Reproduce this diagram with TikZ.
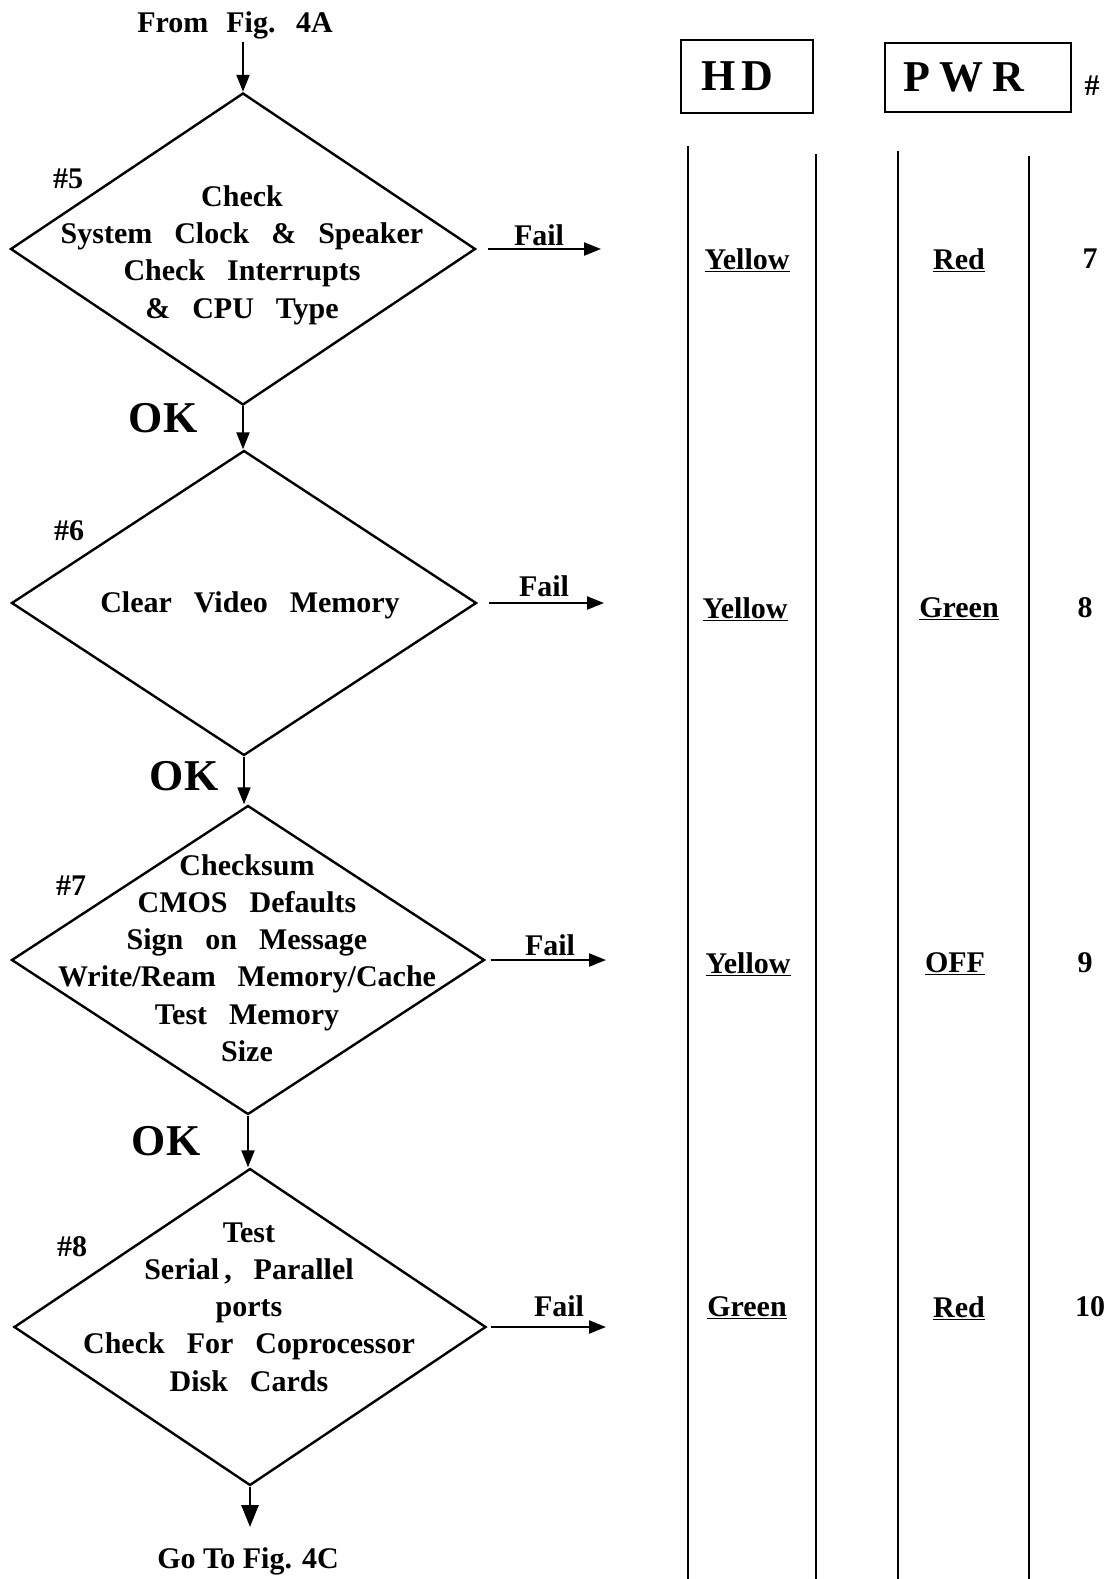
\documentclass[tikz,border=0pt]{standalone}
\usepackage{fontspec}
\setmainfont{Liberation Serif}
\usetikzlibrary{shapes.geometric,arrows.meta}
\newcommand{\widesp}{\spaceskip=22pt\relax}
\newcommand{\midsp}{\spaceskip=18pt\relax}
\begin{document}
\begin{tikzpicture}[x=1pt,y=-1pt,
  dia/.style={draw, diamond, line width=2.4pt, inner sep=0pt},
  txt/.style={font=\fontsize{30}{37.3}\selectfont\bfseries\widesp, align=center, inner sep=0pt},
  lbl/.style={font=\fontsize{30}{36}\selectfont\bfseries, inner sep=0pt},
  big/.style={font=\fontsize{44}{50}\selectfont\bfseries, inner sep=0pt},
  arr/.style={line width=2.2pt, -{Triangle[length=17pt,width=13pt]}},
  bigarr/.style={line width=2.6pt, -{Triangle[length=22pt,width=17pt]}},
  col/.style={line width=2.6pt},
  hbox/.style={draw, line width=2.6pt, font=\fontsize{44}{50}\selectfont\bfseries, inner sep=0pt, align=left}]
\useasboundingbox (0,0) rectangle (1110,1579);

% top label and entry arrow
\node[lbl, font=\fontsize{30}{36}\selectfont\bfseries\midsp] (from) at (235,25) {From Fig. 4A};
\coordinate (in) at (243,42);

% diamonds
\node[dia, minimum width=465pt, minimum height=312pt] (d1) at (243,249) {};
\node[dia, minimum width=465pt, minimum height=305pt] (d2) at (244,603) {};
\node[dia, minimum width=473pt, minimum height=309pt] (d3) at (248,960) {};
\node[dia, minimum width=472pt, minimum height=317pt] (d4) at (250,1327) {};

% diamond texts
\node[txt] (t1) at (242,255) {Check\\System Clock \& Speaker\\Check Interrupts\\\& CPU Type};
\node[txt] (t2) at (250,605) {Clear Video Memory};
\node[txt] (t3) at (247,958) {Checksum\\CMOS Defaults\\Sign on Message\\Write/Ream Memory/Cache\\Test Memory\\Size};
\node[txt] (t4) at (249,1307) {Test\\Serial\,, Parallel\\ports\\Check For Coprocessor\\Disk Cards};

% step numbers
\node[lbl] (n5) at (68,179) {\#5};
\node[lbl] (n6) at (69,531) {\#6};
\node[lbl] (n7) at (71,886) {\#7};
\node[lbl] (n8) at (72,1247) {\#8};

% OK labels
\node[big] (ok1) at (163,418) {OK};
\node[big] (ok2) at (184,776) {OK};
\node[big] (ok3) at (166,1141) {OK};

% vertical flow
\draw[arr] (in) -- (in |- d1.north);
\draw[arr] (d1.south) -- (d1.south |- d2.north);
\draw[arr] (d2.south) -- (d2.south |- d3.north);
\draw[arr] (d3.south) -- (d3.south |- d4.north);
\coordinate (out) at (250,1527);
\draw[bigarr] (d4.south) -- (out);
\node[lbl] (goto) at (248,1561) {Go To Fig. 4C};

% fail arrows
\coordinate (f1) at (601,250);
\coordinate (f2) at (604,604);
\coordinate (f3) at (606,962);
\coordinate (f4) at (606,1324);
\draw[arr] ([xshift=11pt]d1.east) -- (f1 |- d1.east);
\draw[arr] ([xshift=11pt]d2.east) -- (f2 |- d2.east);
\draw[arr] ([xshift=5pt]d3.east) -- (f3 |- d3.east);
\draw[arr] ([xshift=4pt]d4.east) -- (f4 |- d4.east);
\node[lbl] (fl1) at (539,235) {Fail};
\node[lbl] (fl2) at (544,586) {Fail};
\node[lbl] (fl3) at (550,945) {Fail};
\node[lbl] (fl4) at (559,1306) {Fail};

% column headers
\node[hbox, minimum height=73pt, text width=132pt] (hd) at (747,76.5) {\raisebox{-3pt}{\hspace*{20pt}H\hspace{6pt}D}};
\node[hbox, minimum height=69pt, text width=186pt] (pwr) at (978,77.5) {\raisebox{-2.5pt}{\hspace*{18pt}P\hspace{10pt}W\hspace{9pt}R}};
\node[lbl] (hash) at (1092,86) {\#};

% column lines
\coordinate (c1t) at (688,146); \coordinate (c1b) at (688,1579);
\coordinate (c2t) at (816,154); \coordinate (c2b) at (816,1579);
\coordinate (c3t) at (898,151); \coordinate (c3b) at (898,1579);
\coordinate (c4t) at (1029,156); \coordinate (c4b) at (1029,1579);
\draw[col] (c1t) -- (c1b);
\draw[col] (c2t) -- (c2b);
\draw[col] (c3t) -- (c3b);
\draw[col] (c4t) -- (c4b);

% indicator table
\node[lbl] (h7) at (747,260) {\underline{Yellow}};
\node[lbl] (p7) at (959,260) {\underline{Red}};
\node[lbl] (r7) at (1090,259) {7};
\node[lbl] (h8) at (745,609) {\underline{Yellow}};
\node[lbl] (p8) at (959,609) {\underline{Green}};
\node[lbl] (r8) at (1085,608) {8};
\node[lbl] (h9) at (748,964) {\underline{Yellow}};
\node[lbl] (p9) at (955,964) {\underline{OFF}};
\node[lbl] (r9) at (1085,963) {9};
\node[lbl] (h10) at (747,1308) {\underline{Green}};
\node[lbl] (p10) at (959,1308) {\underline{Red}};
\node[lbl] (r10) at (1090,1307) {10};
\end{tikzpicture}
\end{document}
